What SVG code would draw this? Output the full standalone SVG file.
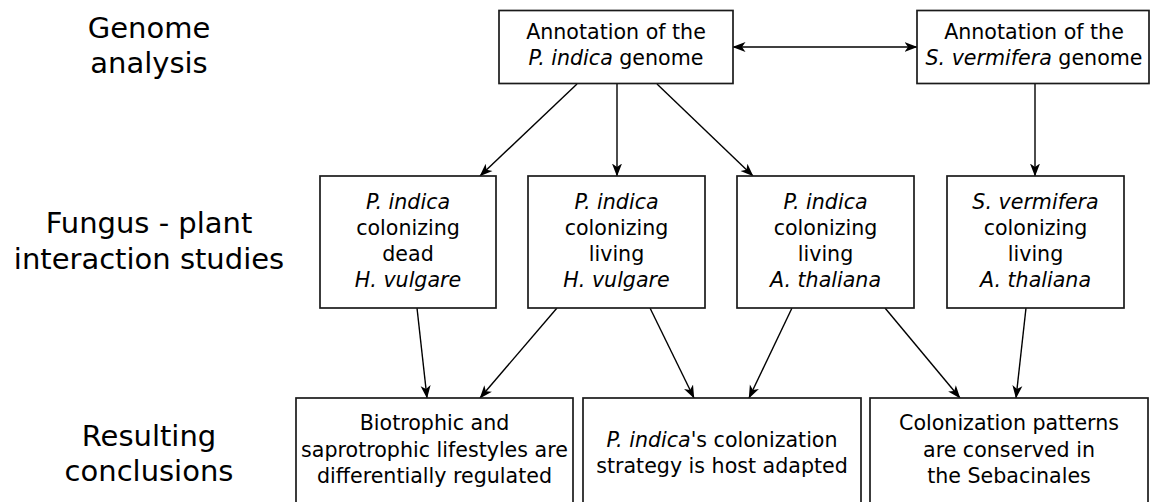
<svg xmlns="http://www.w3.org/2000/svg" width="1151" height="502" viewBox="0 0 1151 502">
<style>
.box{fill:#fff;stroke:#1a1a1a;stroke-width:1.7}
.t{font-family:"DejaVu Sans",sans-serif;font-size:20.6px;fill:#000;text-anchor:middle}
.lab{font-family:"DejaVu Sans",sans-serif;font-size:29px;fill:#000;text-anchor:middle}
.i{font-style:italic}
.c{stroke:#000;stroke-width:1.4;fill:none}
</style>
<defs>
<marker id="ah" markerWidth="14" markerHeight="12" refX="12.5" refY="6" orient="auto" markerUnits="userSpaceOnUse">
<path d="M0,1 L13,6 L0,11 L3.5,6 z" fill="#000"/>
</marker>
<marker id="as" markerWidth="14" markerHeight="12" refX="0.5" refY="6" orient="auto" markerUnits="userSpaceOnUse">
<path d="M13,1 L0,6 L13,11 L9.5,6 z" fill="#000"/>
</marker>
</defs>
<g id="labels">
<text class="lab" x="149" y="38">Genome</text>
<text class="lab" x="149" y="73">analysis</text>
<text class="lab" x="149" y="233">Fungus - plant</text>
<text class="lab" x="149" y="269">interaction studies</text>
<text class="lab" x="149" y="446">Resulting</text>
<text class="lab" x="149" y="481">conclusions</text>
</g>
<g id="connectors">
<line class="c" x1="733" y1="47" x2="917" y2="47" marker-start="url(#as)" marker-end="url(#ah)"/>
<line class="c" x1="577" y1="84" x2="480" y2="176" marker-end="url(#ah)"/>
<line class="c" x1="617" y1="84" x2="617" y2="176" marker-end="url(#ah)"/>
<line class="c" x1="657" y1="84" x2="753" y2="176" marker-end="url(#ah)"/>
<line class="c" x1="1035" y1="83" x2="1035" y2="176" marker-end="url(#ah)"/>
<line class="c" x1="417" y1="308" x2="427" y2="398" marker-end="url(#ah)"/>
<line class="c" x1="557" y1="308" x2="480" y2="398" marker-end="url(#ah)"/>
<line class="c" x1="650" y1="308" x2="694" y2="398" marker-end="url(#ah)"/>
<line class="c" x1="792" y1="308" x2="749" y2="398" marker-end="url(#ah)"/>
<line class="c" x1="885" y1="308" x2="960" y2="398" marker-end="url(#ah)"/>
<line class="c" x1="1026" y1="308" x2="1016" y2="398" marker-end="url(#ah)"/>
</g>
<g id="pindica-genome">
<rect class="box" x="499" y="10.5" width="234" height="73"/>
<text class="t" x="616" y="39">Annotation of the</text>
<text class="t" x="616" y="65"><tspan class="i">P. indica</tspan> genome</text>
</g>
<g id="svermifera-genome">
<rect class="box" x="917" y="10.5" width="232" height="73"/>
<text class="t" x="1034" y="39">Annotation of the</text>
<text class="t" x="1034" y="65"><tspan class="i">S. vermifera</tspan> genome</text>
</g>
<g id="pi-dead-hv">
<rect class="box" x="320" y="176" width="176" height="132"/>
<text class="t i" x="408" y="209">P. indica</text>
<text class="t" x="408" y="235">colonizing</text>
<text class="t" x="408" y="261">dead</text>
<text class="t i" x="408" y="287">H. vulgare</text>
</g>
<g id="pi-living-hv">
<rect class="box" x="528" y="176" width="177" height="132"/>
<text class="t i" x="616.5" y="209">P. indica</text>
<text class="t" x="616.5" y="235">colonizing</text>
<text class="t" x="616.5" y="261">living</text>
<text class="t i" x="616.5" y="287">H. vulgare</text>
</g>
<g id="pi-living-at">
<rect class="box" x="737" y="176" width="177" height="132"/>
<text class="t i" x="825.5" y="209">P. indica</text>
<text class="t" x="825.5" y="235">colonizing</text>
<text class="t" x="825.5" y="261">living</text>
<text class="t i" x="825.5" y="287">A. thaliana</text>
</g>
<g id="sv-living-at">
<rect class="box" x="947" y="176" width="177" height="132"/>
<text class="t i" x="1035.5" y="209">S. vermifera</text>
<text class="t" x="1035.5" y="235">colonizing</text>
<text class="t" x="1035.5" y="261">living</text>
<text class="t i" x="1035.5" y="287">A. thaliana</text>
</g>
<g id="lifestyles">
<rect class="box" x="296" y="398" width="277" height="110"/>
<text class="t" x="434.5" y="430">Biotrophic and</text>
<text class="t" x="434.5" y="457">saprotrophic lifestyles are</text>
<text class="t" x="434.5" y="483">differentially regulated</text>
</g>
<g id="host-adapted">
<rect class="box" x="583" y="398" width="278" height="110"/>
<text class="t" x="722" y="447"><tspan class="i">P. indica</tspan>'s colonization</text>
<text class="t" x="722" y="473">strategy is host adapted</text>
</g>
<g id="conserved">
<rect class="box" x="870" y="398" width="278" height="110"/>
<text class="t" x="1009" y="430">Colonization patterns</text>
<text class="t" x="1009" y="457">are conserved in</text>
<text class="t" x="1009" y="483">the Sebacinales</text>
</g>
</svg>
